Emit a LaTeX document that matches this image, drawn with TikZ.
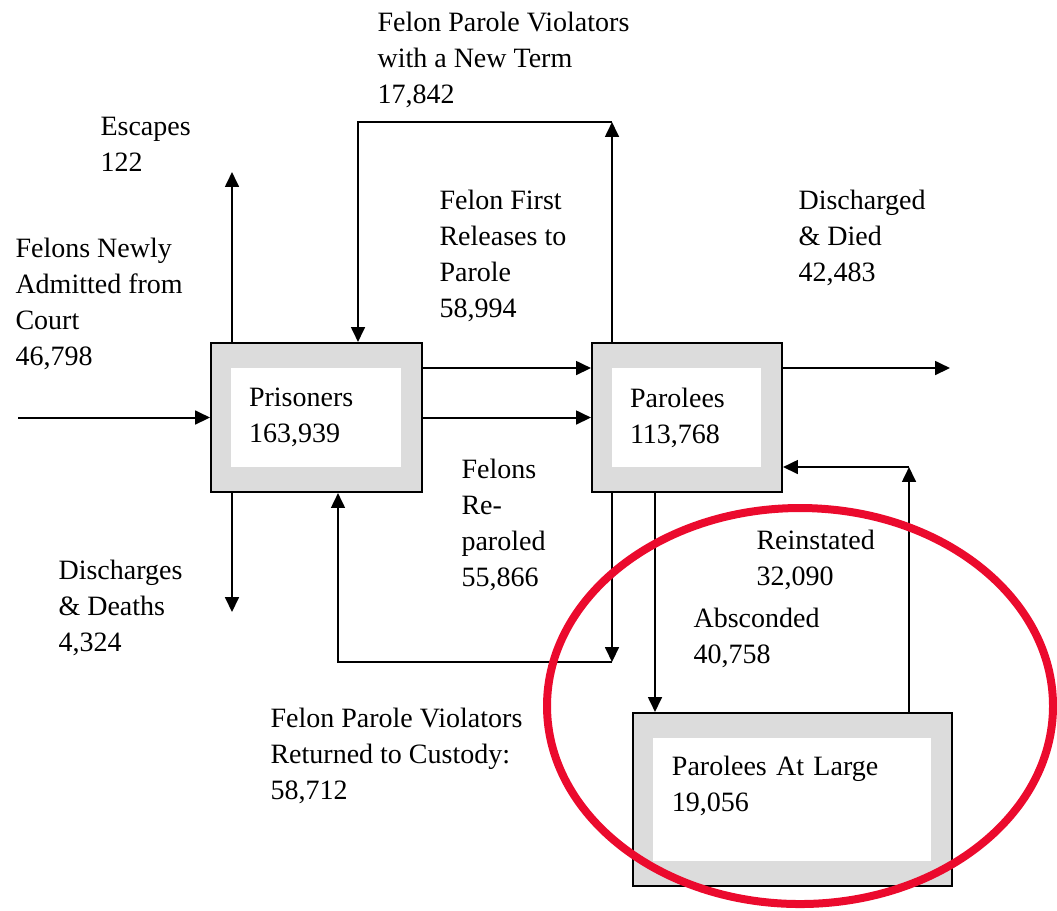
\documentclass[tikz,border=0pt]{standalone}
\usepackage{fontspec}
\setmainfont{Liberation Serif}
\usetikzlibrary{arrows.meta}
\definecolor{bandgray}{RGB}{220,220,220}
\definecolor{ringred}{RGB}{235,10,45}
\begin{document}
\begin{tikzpicture}[x=0.375pt, y=-0.375pt, >={Triangle[length=5.6pt,width=5.2pt]},
  font=\fontsize{10.5}{13.5}\selectfont,
  flow/.style={->, line width=0.75pt},
  lbl/.style={anchor=base west, inner sep=0pt, align=left},
  pbox/.style={draw, line width=0.75pt, fill=bandgray, inner sep=0pt, align=left,
    path picture={\fill[white] ([shift={(20,25)}]path picture bounding box.north west)
      rectangle ([shift={(-21,-25)}]path picture bounding box.south east);}}]
\useasboundingbox (0,0) rectangle (1057,910);

\node[pbox, minimum width=79.1pt, minimum height=55.9pt, text width=50.6pt] (prisoners) at (316.5,417.5) {Prisoners\\163,939};
\node[pbox, minimum width=71.25pt, minimum height=55.9pt, text width=42.75pt] (parolees) at (687,417.5) {Parolees\\113,768};
\node[pbox, minimum width=119.6pt, minimum height=64.9pt, text width=90.4pt, text depth=25pt] (atlarge) at (792.5,799.5) {Parolees At Large\\19,056};

\node[lbl] (escapes) at (100,171) {Escapes\\122};
\node[lbl] (newadm) at (15,365) {Felons Newly\\Admitted from\\Court\\46,798};
\node[lbl] (newterm) at (377,103) {Felon Parole Violators\\with a New Term\\17,842};
\node[lbl] (firstrel) at (439,317) {Felon First\\Releases to\\Parole\\58,994};
\node[lbl] (died) at (798,281) {Discharged\\\& Died\\42,483};
\node[lbl] (reparoled) at (461,586) {Felons\\Re-\\paroled\\55,866};
\node[lbl] (deaths) at (58,651) {Discharges\\\& Deaths\\4,324};
\node[lbl] (reinst) at (756,585) {Reinstated\\32,090};
\node[lbl] (absc) at (693,663) {Absconded\\40,758};
\node[lbl] (returned) at (270,799) {Felon Parole Violators\\Returned to Custody:\\58,712};

\coordinate (courtIn) at (18,417.5);
\coordinate (escTip) at (232,172);
\coordinate (disTip) at (232,612);
\coordinate (ntR) at (612,122);   \coordinate (ntL) at (358,122);
\coordinate (retR) at (612,662);  \coordinate (retL) at (338,662);
\coordinate (row1) at (0,368);    \coordinate (row2) at (0,417.5);
\coordinate (abscX) at (655,0);
\coordinate (reinTip) at (909,467);
\coordinate (diedTip) at (950,368);

\draw[flow] (courtIn) -- (prisoners.west);
\draw[flow] (escTip |- prisoners.north) -- (escTip);
\draw[flow] (disTip |- prisoners.south) -- (disTip);
\draw[flow] (ntR |- parolees.north) -- (ntR);
\draw[flow] (ntR) -- (ntL) -- (ntL |- prisoners.north);
\draw[flow] (prisoners.east |- row1) -- (parolees.west |- row1);
\draw[flow] (prisoners.east |- row2) -- (parolees.west |- row2);
\draw[flow] (retR |- parolees.south) -- (retR);
\draw[flow] (retR) -- (retL) -- (retL |- prisoners.south);
\draw[flow] (abscX |- parolees.south) -- (abscX |- atlarge.north);
\draw[flow] (reinTip |- atlarge.north) -- (reinTip);
\draw[flow] (reinTip) -- (parolees.east |- reinTip);
\draw[flow] (parolees.east |- diedTip) -- (diedTip);

\draw[ringred, line width=3pt] (800,706) ellipse [x radius=253, y radius=198];
\end{tikzpicture}
\end{document}
